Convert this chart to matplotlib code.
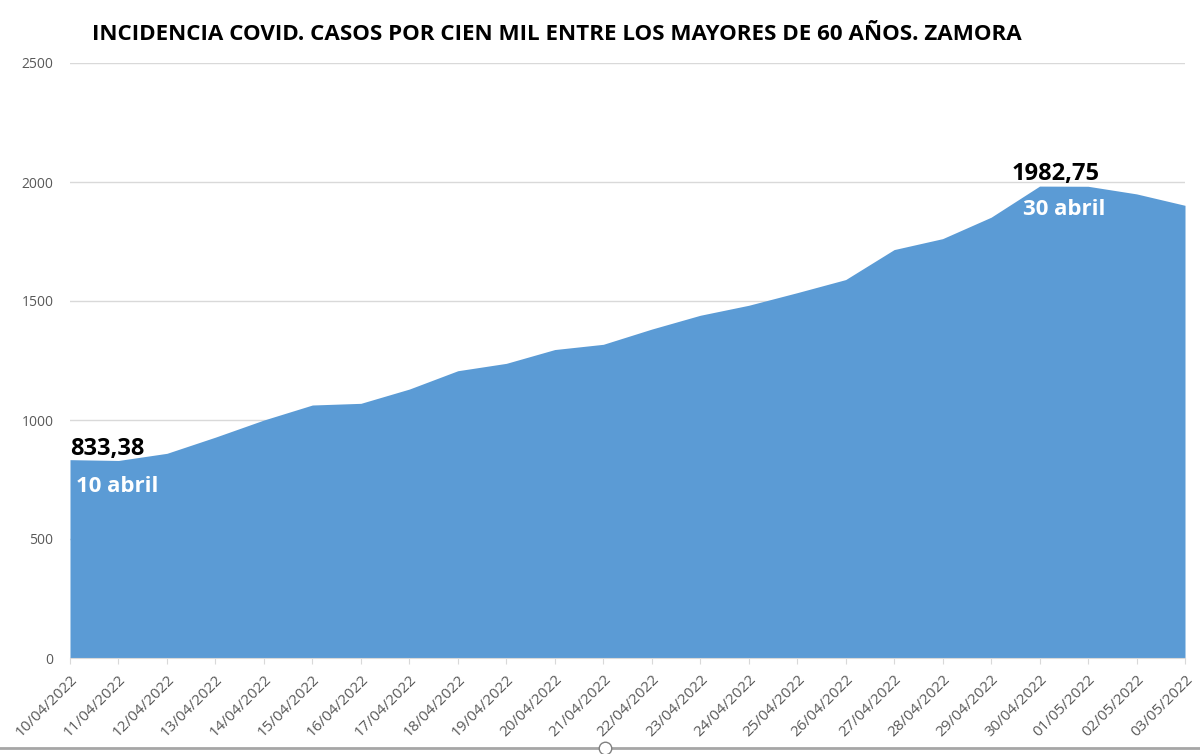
import matplotlib.pyplot as plt
import numpy as np

# datos
fechas = ['10/04/2022', '11/04/2022', '12/04/2022', '13/04/2022', '14/04/2022',
          '15/04/2022', '16/04/2022', '17/04/2022', '18/04/2022', '19/04/2022',
          '20/04/2022', '21/04/2022', '22/04/2022', '23/04/2022', '24/04/2022',
          '25/04/2022', '26/04/2022', '27/04/2022', '28/04/2022', '29/04/2022',
          '30/04/2022', '01/05/2022', '02/05/2022', '03/05/2022']
incidencia = [833.38, 830, 860, 928, 1000, 1063, 1070, 1130, 1207, 1238,
              1296, 1318, 1382, 1440, 1482, 1535, 1590, 1716, 1762, 1852,
              1982.75, 1982, 1950, 1902]
yticks = [0, 500, 1000, 1500, 2000, 2500]

plt.rcParams['font.family'] = ['Open Sans', 'DejaVu Sans']

fig = plt.figure(figsize=(12, 7.54), dpi=100)
ax = fig.add_axes([70/1200, 96/754, 1115/1200, 595/754])

x = np.arange(len(fechas))
ax.fill_between(x, incidencia, 0, color='#5B9BD5', linewidth=0, zorder=2)

ax.set_xlim(0, len(fechas) - 1)
ax.set_ylim(0, 2500)
ax.set_yticks(yticks)
ax.set_yticklabels([str(v) for v in yticks], fontsize=10, color='#595959')
ax.grid(axis='y', color='#D9D9D9', linewidth=1, zorder=0)
ax.tick_params(axis='y', length=0, pad=12)

ax.set_xticks(x)
ax.set_xticklabels(fechas, rotation=45, ha='right', rotation_mode='anchor',
                   fontsize=11, color='#595959')
ax.tick_params(axis='x', length=4, color='#D9D9D9', pad=6)

for s in ['top', 'right', 'left']:
    ax.spines[s].set_visible(False)
ax.spines['bottom'].set_color('#D9D9D9')

# anotaciones
ax.annotate('833,38', (0, incidencia[0]), xytext=(0, -1), textcoords='offset points',
            ha='left', va='bottom', fontsize=17, fontweight='bold', color='black')
ax.annotate('10 abril', (0, incidencia[0]), xytext=(4, -12), textcoords='offset points',
            ha='left', va='top', fontsize=16, fontweight='bold', color='white')
ax.annotate('1982,75', (20, incidencia[20]), xytext=(11.5, 0), textcoords='offset points',
            ha='center', va='bottom', fontsize=17, fontweight='bold', color='black')
ax.annotate('30 abril', (20, incidencia[20]), xytext=(17.5, -9), textcoords='offset points',
            ha='center', va='top', fontsize=16, fontweight='bold', color='white')

fig.text(92/1200, 1 - 34/754,
         'INCIDENCIA COVID. CASOS POR CIEN MIL ENTRE LOS MAYORES DE 60 AÑOS. ZAMORA',
         ha='left', va='center', fontsize=16.1, fontweight='bold', color='black')

# marco inferior de la captura
fig.add_artist(plt.Line2D([0, 1], [6/754, 6/754], color='#A6A6A6', linewidth=2))
fig.add_artist(plt.Line2D([605/1200], [6/754], marker='o', markersize=9,
                          markerfacecolor='white', markeredgecolor='#808080'))

fig.savefig('out.png', dpi=100)
